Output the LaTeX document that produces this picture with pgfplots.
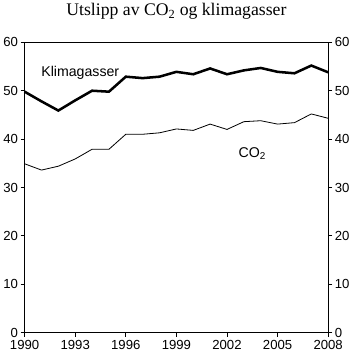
\documentclass[border=0pt]{standalone}
\usepackage{pgfplots}
\pgfplotsset{compat=1.18}
\usepackage{fontspec}
\setmainfont{Liberation Serif}
\newfontfamily\arial{Liberation Sans}
\begin{document}
\begin{tikzpicture}
\begin{axis}[
  scale only axis, width=299bp, height=286bp,
  xmin=1990, xmax=2008, ymin=0, ymax=60,
  xtick={1990,1993,...,2008}, ytick={0,10,...,60},
  x tick label style={/pgf/number format/1000 sep={}},
  /pgf/number format/assume math mode=true,
  tick label style={font=\arial\fontsize{13}{15}\selectfont},
  yticklabel style={xshift=1bp},
  tick align=outside, tick style={black, line width=0.8pt},
  major tick length=4bp,
  xtick pos=bottom,
  ytick pos=both, yticklabel pos=left,
  axis line style={line width=0.8pt},
  axis lines*=box,
  title={\fontsize{17.5}{20}\selectfont Utslipp av CO\textsubscript{2} og klimagasser},
  title style={yshift=13bp},
  clip=false,
]
\addplot[black, line width=2.5pt] coordinates {
(1990,49.8)(1991,47.8)(1992,45.9)(1993,48.0)(1994,50.0)(1995,49.8)(1996,52.9)(1997,52.6)(1998,52.9)(1999,53.9)(2000,53.4)(2001,54.6)(2002,53.4)(2003,54.2)(2004,54.7)(2005,53.9)(2006,53.6)(2007,55.2)(2008,53.8)};
\addplot[black, line width=0.8pt] coordinates {
(1990,34.9)(1991,33.6)(1992,34.4)(1993,35.9)(1994,37.9)(1995,37.9)(1996,41.0)(1997,41.0)(1998,41.3)(1999,42.1)(2000,41.8)(2001,43.1)(2002,42.0)(2003,43.6)(2004,43.8)(2005,43.1)(2006,43.4)(2007,45.2)(2008,44.3)};
\node[font=\arial\fontsize{14}{16}\selectfont] at (axis cs:1993.3,53.6) {Klimagasser};
\node[font=\arial\fontsize{14}{16}\selectfont] at (axis cs:2003.5,37.0) {CO\textsubscript{2}};
\end{axis}
\begin{axis}[
  scale only axis, width=299bp, height=286bp,
  xmin=1990, xmax=2008, ymin=0, ymax=60,
  axis x line=none, axis y line*=right,
  ytick={0,10,...,60},
  /pgf/number format/assume math mode=true,
  tick label style={font=\arial\fontsize{13}{15}\selectfont},
  yticklabel style={xshift=-1bp},
  tick align=outside, tick style={black, line width=0.8pt},
  major tick length=4bp,
  axis line style={line width=0.8pt},
]
\end{axis}
\end{tikzpicture}
\end{document}
